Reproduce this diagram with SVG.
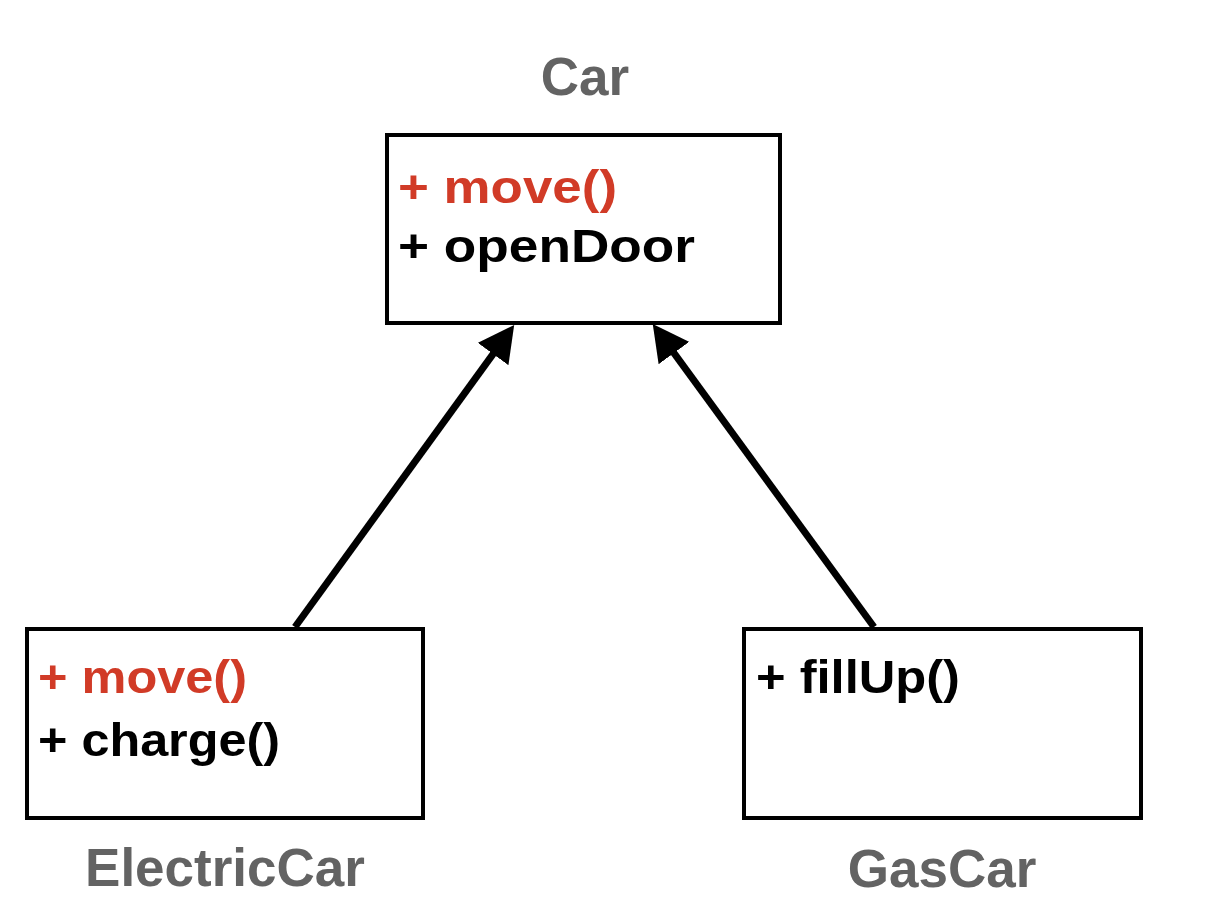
<svg xmlns="http://www.w3.org/2000/svg" width="1219" height="901" viewBox="0 0 1219 901">
<style>
.box{fill:#fff;stroke:#000;stroke-width:4}
.title{font-family:"Liberation Sans",Arial,sans-serif;font-weight:bold;font-size:53px;fill:#636363;text-anchor:middle}
.mem{font-family:"Liberation Sans",Arial,sans-serif;font-weight:bold;font-size:46px;fill:#000}
.red{fill:#D13B27}
.conn{stroke:#000;stroke-width:7;fill:none;marker-end:url(#tri)}
</style>
<defs>
<marker id="tri" markerUnits="userSpaceOnUse" markerWidth="36" markerHeight="38" viewBox="0 0 36 38" refX="3" refY="19" orient="auto">
<path d="M0,0 L36,19 L0,38 z" fill="#000"/>
</marker>
</defs>
<rect width="1219" height="901" fill="#fff"/>
<g id="connectors">
<line class="conn" x1="295" y1="627" x2="494.8" y2="351.6"/>
<line class="conn" x1="874" y1="627" x2="672.2" y2="350.6"/>
</g>
<g id="car">
<rect class="box" x="387" y="135" width="393" height="188"/>
<text class="title" x="585" y="95">Car</text>
<text class="mem red" x="398" y="203" textLength="219" lengthAdjust="spacingAndGlyphs">+ move()</text>
<text class="mem" x="398" y="262" textLength="297" lengthAdjust="spacingAndGlyphs">+ openDoor</text>
</g>
<g id="electriccar">
<rect class="box" x="27" y="629" width="396" height="189"/>
<text class="title" x="225" y="886">ElectricCar</text>
<text class="mem red" x="38" y="693" textLength="209" lengthAdjust="spacingAndGlyphs">+ move()</text>
<text class="mem" x="38" y="756" textLength="242" lengthAdjust="spacingAndGlyphs">+ charge()</text>
</g>
<g id="gascar">
<rect class="box" x="744" y="629" width="397" height="189"/>
<text class="title" x="942" y="887">GasCar</text>
<text class="mem" x="756" y="693" textLength="204" lengthAdjust="spacingAndGlyphs">+ fillUp()</text>
</g>
</svg>
